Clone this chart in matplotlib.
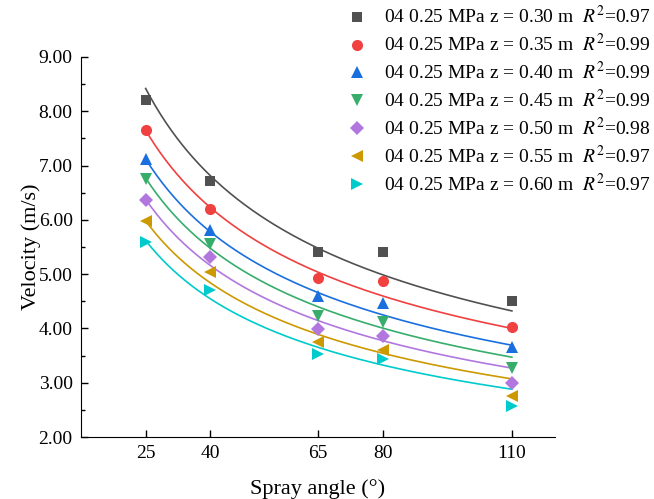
import numpy as np
import matplotlib
matplotlib.use('Agg')
import matplotlib.pyplot as plt

plt.rcParams['font.family'] = ['Liberation Serif', 'DejaVu Serif']
plt.rcParams['mathtext.fontset'] = 'stix'

# spray angles (deg)
angles = np.array([25, 40, 65, 80, 110])

# measured velocities (m/s) for each z
v_030 = [8.20, 6.72, 5.40, 5.40, 4.50]
v_035 = [7.65, 6.20, 4.93, 4.87, 4.03]
v_040 = [7.12, 5.82, 4.60, 4.47, 3.65]
v_045 = [6.75, 5.55, 4.22, 4.12, 3.28]
v_050 = [6.37, 5.32, 3.99, 3.86, 3.00]
v_055 = [5.98, 5.04, 3.75, 3.60, 2.75]
v_060 = [5.60, 4.70, 3.53, 3.43, 2.58]

# power fit coefficients v = a * angle^b
fit_a = [35.84, 31.28, 29.68, 28.91, 27.24, 25.46, 24.00]
fit_b = [-0.450, -0.4375, -0.4435, -0.451, -0.451, -0.450, -0.451]

labels = ['0.30', '0.35', '0.40', '0.45', '0.50', '0.55', '0.60']
r2 = ['0.97', '0.99', '0.99', '0.99', '0.98', '0.97', '0.97']
series = [v_030, v_035, v_040, v_045, v_050, v_055, v_060]

colors = ['#515151', '#F14040', '#1A6FDF', '#37AD6B', '#B177DE', '#CC9900', '#00CBCC']
markers = ['s', 'o', '^', 'v', 'D', '<', '>']
msizes = [7, 8, 8, 8, 7, 8, 8]

fig = plt.figure(figsize=(6.54, 4.99), dpi=100)
ax = fig.add_axes([0.1239, 0.1242, 0.7247, 0.7616])

xs = np.linspace(angles[0], angles[-1], 200)
handles = []
for vals, a, b, lab, r, c, m, ms in zip(series, fit_a, fit_b, labels, r2,
                                         colors, markers, msizes):
    ax.plot(xs, a * xs**b, color=c, lw=1.2, zorder=2)
    h, = ax.plot(angles, vals, ls='none', marker=m, ms=ms, color=c,
                 markeredgewidth=0, zorder=3,
                 label='04 0.25 MPa z = %s m  $R^2$=%s' % (lab, r))
    handles.append(h)

ax.set_xlim(10, 120)
ax.set_ylim(2, 9)
ax.set_xticks(angles)
ax.set_yticks(np.arange(2, 9.01, 1))
ax.set_yticks(np.arange(2.5, 9, 1), minor=True)
ax.set_yticklabels(['%.2f' % v for v in np.arange(2, 9.01, 1)])
ax.spines['top'].set_visible(False)
ax.spines['right'].set_visible(False)
ax.tick_params(direction='in', length=5, width=1, labelsize=14, pad=6)
ax.tick_params(which='minor', direction='in', length=3, width=1)
ax.tick_params(axis='x', which='minor', bottom=False)

ax.set_xlabel('Spray angle (°)', fontsize=16, labelpad=12)
ax.set_ylabel('Velocity (m/s)', fontsize=16, labelpad=-2)

fig.legend(handles=handles, loc='upper left', bbox_to_anchor=(0.504, 1.005),
           frameon=False, fontsize=14, handletextpad=0.4,
           labelspacing=0.3, borderaxespad=0)

fig.savefig('out.png', dpi=100)
